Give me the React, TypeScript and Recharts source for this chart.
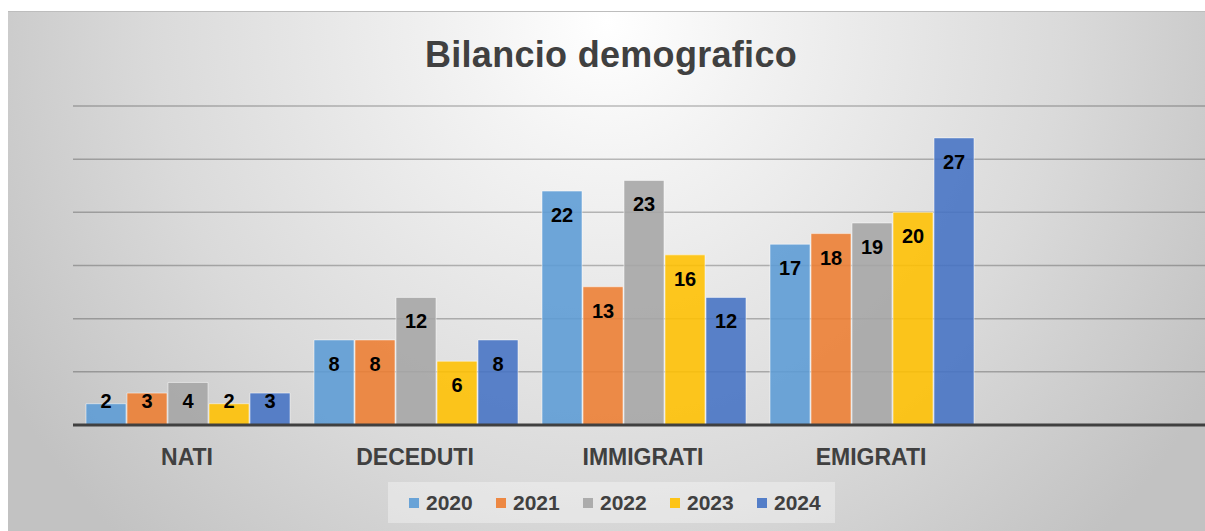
import React from 'react';
import { BarChart, Bar, XAxis, YAxis, CartesianGrid, LabelList, Legend } from 'recharts';

const title = 'Bilancio demografico';
const categories = ['NATI', 'DECEDUTI', 'IMMIGRATI', 'EMIGRATI', ''];
const years = ['2020', '2021', '2022', '2023', '2024'];
const values2020 = [2, 8, 22, 17, null];
const values2021 = [3, 8, 13, 18, null];
const values2022 = [4, 12, 23, 19, null];
const values2023 = [2, 6, 16, 20, null];
const values2024 = [3, 8, 12, 27, null];
const colors = ['#5B9BD5', '#ED7D31', '#A5A5A5', '#FFC000', '#4472C4'];
const yTicks = [0, 5, 10, 15, 20, 25, 30];

const series = [values2020, values2021, values2022, values2023, values2024];
const data = categories.map((c, i) => {
  const row: any = { name: c };
  years.forEach((y, k) => {
    row[y] = series[k][i];
  });
  return row;
});

const FONT = "'Liberation Sans', Arial, sans-serif";

const CatTick = (props: any) => {
  const { x, y, payload } = props;
  return (
    <text x={x} y={Number(y) + 38} textAnchor="middle" fontFamily={FONT} fontWeight={700} fontSize={23} fill="#404040">
      {payload.value}
    </text>
  );
};

const renderLabel = (props: any) => {
  const { x, y, width, height, value } = props;
  if (value === null || value === undefined) return null;
  const nx = Number(x), ny = Number(y), w = Number(width), h = Number(height);
  const cy = Math.min(ny + 24, ny + h - 24);
  return (
    <text x={nx + w / 2} y={cy + 7} textAnchor="middle" fontFamily={FONT} fontWeight={700} fontSize={20} fill="#000000">
      {value}
    </text>
  );
};

const LegendContent = (props: any) => {
  const payload = props.payload || [];
  return (
    <div style={{ width: 447, height: 41, background: 'rgba(255,255,255,0.35)', display: 'flex', alignItems: 'center', paddingLeft: 21, boxSizing: 'border-box' }}>
      {payload.map((p: any, i: number) => (
        <div key={i} style={{ width: 87, display: 'flex', alignItems: 'center', flexShrink: 0 }}>
          <div style={{ width: 10, height: 10, background: p.color, opacity: 0.9, marginRight: 7 }} />
          <span style={{ fontFamily: FONT, fontWeight: 700, fontSize: 21, lineHeight: '21px', color: '#404040' }}>{p.value}</span>
        </div>
      ))}
    </div>
  );
};

export default function App() {
  return (
    <div style={{ position: 'fixed', left: 0, top: 0, width: 1205, height: 531, overflow: 'hidden', background: '#ffffff' }}>
      <div
        style={{
          position: 'absolute',
          left: 8,
          top: 11,
          width: 1197,
          height: 520,
          borderTop: '1px solid #bdbdbd',
          boxSizing: 'border-box',
          background: 'radial-gradient(ellipse 700px 720px at 600px 10px, #ffffff 0%, #f3f3f3 20%, #dadada 65%, #c2c2c2 100%)',
        }}
      />
      <svg style={{ position: 'absolute', left: 0, top: 0 }} width={1205} height={100}>
        <text x={611} y={67} textAnchor="middle" fontFamily={FONT} fontWeight={700} fontSize={36} letterSpacing={0.3} fill="#404040">
          {title}
        </text>
      </svg>
      <div style={{ position: 'absolute', left: 0, top: 0 }}>
        <BarChart
          width={1220}
          height={531}
          data={data}
          margin={{ top: 106, right: 7, bottom: 46, left: 73 }}
          barCategoryGap={13}
          barGap={1}
        >
          <CartesianGrid vertical={false} stroke="rgba(0,0,0,0.25)" strokeWidth={1.5} />
          <YAxis hide width={0} domain={[0, 30]} ticks={yTicks} type="number" />
          <XAxis
            dataKey="name"
            height={60}
            interval={0}
            tickLine={false}
            tickSize={0}
            axisLine={{ stroke: '#404040', strokeWidth: 3 }}
            tick={<CatTick />}
          />
          <Legend
            layout="horizontal"
            verticalAlign="middle"
            align="center"
            wrapperStyle={{ position: 'absolute', left: 388, top: 482, width: 447, height: 41 }}
            content={<LegendContent />}
          />
          {years.map((y, k) => (
            <Bar
              key={y}
              dataKey={y}
              name={y}
              fill={colors[k]}
              fillOpacity={0.88}
              stroke="#ffffff"
              strokeOpacity={0.5}
              strokeWidth={1}
              isAnimationActive={false}
            >
              <LabelList dataKey={y} content={renderLabel} />
            </Bar>
          ))}
        </BarChart>
      </div>
    </div>
  );
}
